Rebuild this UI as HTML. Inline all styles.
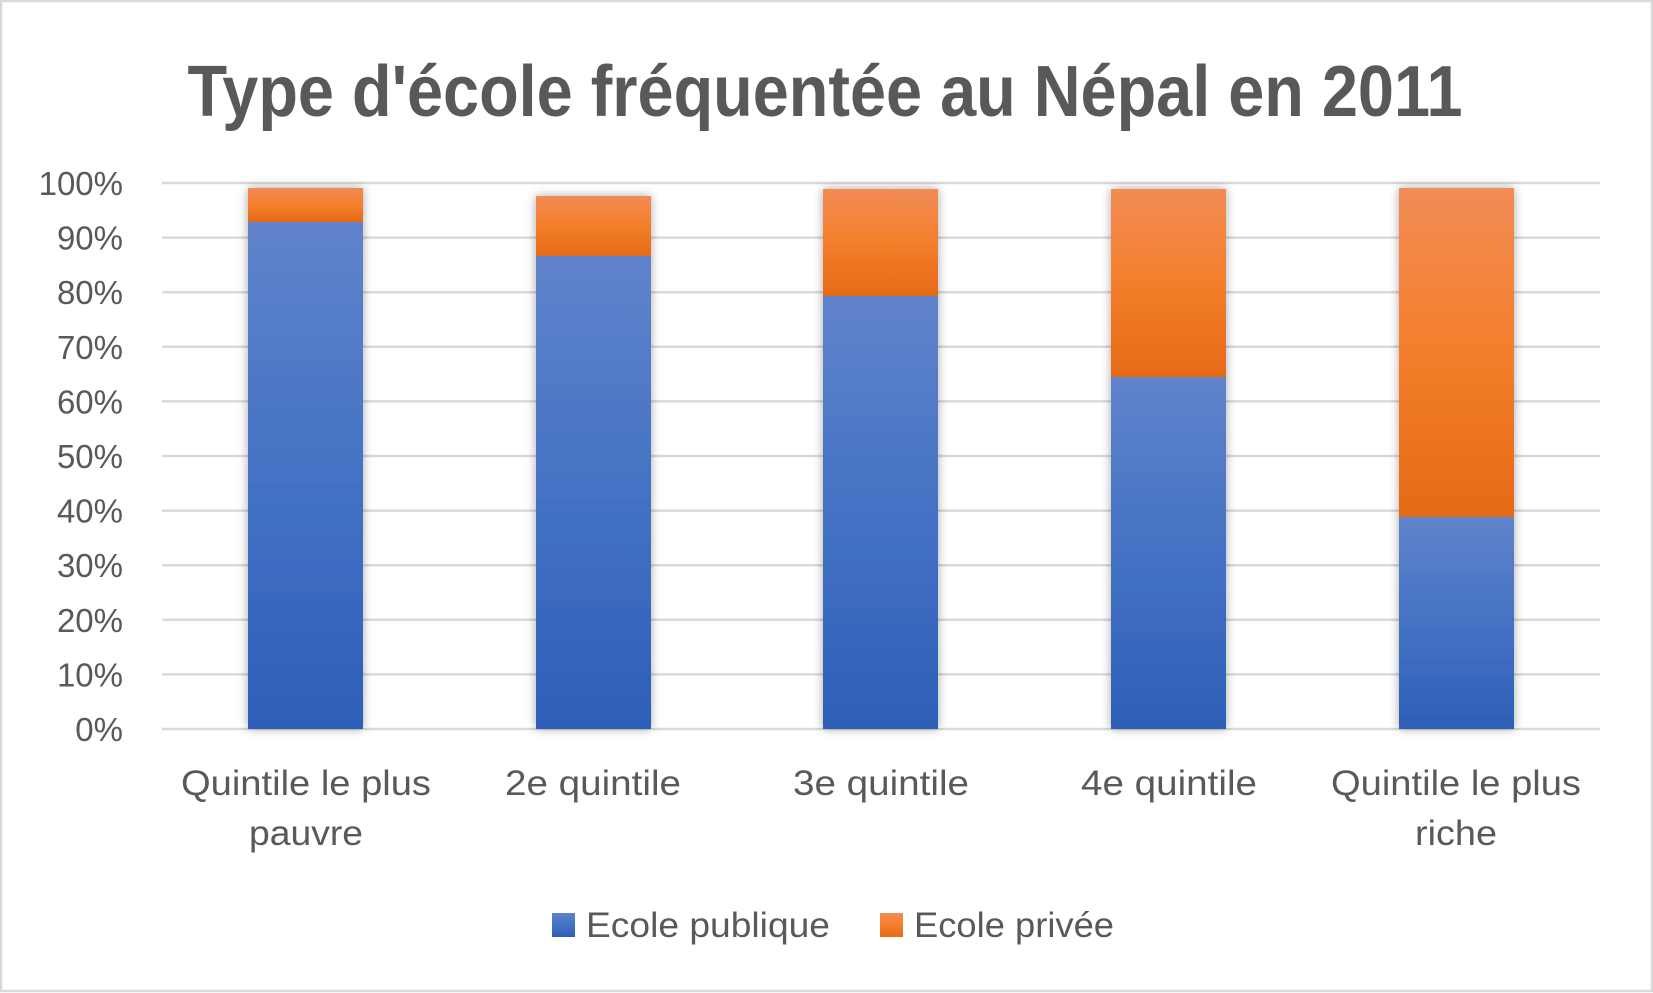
<!DOCTYPE html>
<html><head><meta charset="utf-8"><style>
html,body{margin:0;padding:0;background:#fff}
svg{display:block}
text{font-family:"Liberation Sans",sans-serif;fill:#595959}
</style></head><body>
<svg width="1653" height="993" viewBox="0 0 1653 993" xmlns="http://www.w3.org/2000/svg">
<defs>
<linearGradient id="gb" x1="0" y1="0" x2="0" y2="1"><stop offset="0" stop-color="#6083cb"/><stop offset="0.5" stop-color="#4472c4"/><stop offset="1" stop-color="#2e5fb8"/></linearGradient>
<linearGradient id="go" x1="0" y1="0" x2="0" y2="1"><stop offset="0" stop-color="#f18c55"/><stop offset="0.5" stop-color="#f47e2b"/><stop offset="1" stop-color="#e46a16"/></linearGradient>
<filter id="sh" x="-20%" y="-5%" width="140%" height="110%"><feGaussianBlur in="SourceAlpha" stdDeviation="5"/><feComponentTransfer><feFuncA type="linear" slope="0.35"/></feComponentTransfer><feMerge><feMergeNode/><feMergeNode in="SourceGraphic"/></feMerge></filter>
</defs>
<rect x="1" y="1" width="1651" height="990" fill="#fff" stroke="#d9d9d9" stroke-width="2.5"/>
<text x="825" y="116" font-size="72" font-weight="bold" text-anchor="middle" textLength="1275" lengthAdjust="spacingAndGlyphs">Type d'école fréquentée au Népal en 2011</text>
<g stroke="#d9d9d9" stroke-width="2.5">
<line x1="162" x2="1600" y1="183" y2="183"/><line x1="162" x2="1600" y1="237.6" y2="237.6"/><line x1="162" x2="1600" y1="292.2" y2="292.2"/><line x1="162" x2="1600" y1="346.8" y2="346.8"/><line x1="162" x2="1600" y1="401.4" y2="401.4"/><line x1="162" x2="1600" y1="456" y2="456"/><line x1="162" x2="1600" y1="510.6" y2="510.6"/><line x1="162" x2="1600" y1="565.2" y2="565.2"/><line x1="162" x2="1600" y1="619.8" y2="619.8"/><line x1="162" x2="1600" y1="674.4" y2="674.4"/><line x1="162" x2="1600" y1="729" y2="729"/>
</g>
<g font-size="33" text-anchor="end">
<text x="123" y="195">100%</text><text x="123" y="249.6">90%</text><text x="123" y="304.2">80%</text><text x="123" y="358.8">70%</text><text x="123" y="413.4">60%</text><text x="123" y="468">50%</text><text x="123" y="522.6">40%</text><text x="123" y="577.2">30%</text><text x="123" y="631.8">20%</text><text x="123" y="686.4">10%</text><text x="123" y="741">0%</text>
</g>
<g filter="url(#sh)">
<rect x="248" y="188" width="115" height="35" fill="url(#go)"/><rect x="248" y="222" width="115" height="507" fill="url(#gb)"/>
<rect x="536" y="196" width="115" height="61" fill="url(#go)"/><rect x="536" y="256" width="115" height="473" fill="url(#gb)"/>
<rect x="823" y="189" width="115" height="108" fill="url(#go)"/><rect x="823" y="296" width="115" height="433" fill="url(#gb)"/>
<rect x="1111" y="189" width="115" height="189" fill="url(#go)"/><rect x="1111" y="377" width="115" height="352" fill="url(#gb)"/>
<rect x="1399" y="188" width="115" height="330" fill="url(#go)"/><rect x="1399" y="517" width="115" height="212" fill="url(#gb)"/>
</g>
<g font-size="35" text-anchor="middle">
<text x="306" y="795" textLength="250" lengthAdjust="spacingAndGlyphs">Quintile le plus</text><text x="306" y="845" textLength="114" lengthAdjust="spacingAndGlyphs">pauvre</text>
<text x="593" y="795" textLength="176" lengthAdjust="spacingAndGlyphs">2e quintile</text>
<text x="881" y="795" textLength="176" lengthAdjust="spacingAndGlyphs">3e quintile</text>
<text x="1169" y="795" textLength="176" lengthAdjust="spacingAndGlyphs">4e quintile</text>
<text x="1456" y="795" textLength="250" lengthAdjust="spacingAndGlyphs">Quintile le plus</text><text x="1456" y="845" textLength="82" lengthAdjust="spacingAndGlyphs">riche</text>
</g>
<rect x="552" y="913" width="23" height="24" fill="url(#gb)"/>
<text x="586" y="937" font-size="35" textLength="244" lengthAdjust="spacingAndGlyphs">Ecole publique</text>
<rect x="880" y="913" width="23" height="24" fill="url(#go)"/>
<text x="914" y="937" font-size="35" textLength="200" lengthAdjust="spacingAndGlyphs">Ecole privée</text>
</svg>
</body></html>
